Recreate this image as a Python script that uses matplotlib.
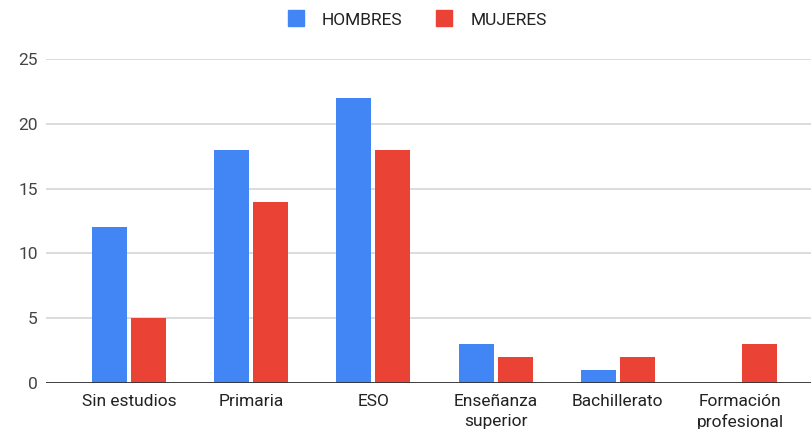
import matplotlib
matplotlib.use("Agg")
import matplotlib.pyplot as plt
import numpy as np
from matplotlib.lines import Line2D

plt.rcParams["font.family"] = ["Roboto", "DejaVu Sans"]

categories = ["Sin estudios", "Primaria", "ESO", "Enseñanza\nsuperior",
              "Bachillerato", "Formación\nprofesional"]
hombres = [12, 18, 22, 3, 1, 0]
mujeres = [5, 14, 18, 2, 2, 3]
series_names = ["HOMBRES", "MUJERES"]
colors = ["#4285F4", "#EA4335"]

W, H = 812, 429
fig = plt.figure(figsize=(W / 100, H / 100), dpi=100)
ax = fig.add_axes([46 / W, 46 / H, (812 - 46) / W, (383 - 59) / H])

x = np.arange(len(categories))
width = 0.286
offset = 0.16
ax.bar(x - offset, hombres, width, color=colors[0], zorder=3)
ax.bar(x + offset, mujeres, width, color=colors[1], zorder=3)

ax.set_xlim(-0.679, 5.589)
ax.set_ylim(0, 25)
ax.set_yticks([0, 5, 10, 15, 20, 25])
ax.yaxis.grid(True, color="#d9d9d9", linewidth=1.3, zorder=0)
ax.axhline(0, color="#333333", linewidth=1.3, zorder=4)
for s in ax.spines.values():
    s.set_visible(False)
ax.set_xticks(x)
ax.set_xticklabels(categories, fontsize=12.5, color="#222222", linespacing=1.4)
ax.tick_params(axis="x", length=0, pad=8)
ax.tick_params(axis="y", length=0, pad=6, labelsize=12.5, labelcolor="#444444")

handles = [Line2D([0], [0], marker="s", linestyle="none", markersize=11,
                  markerfacecolor=c, markeredgecolor=c) for c in colors]
fig.legend(handles, series_names, loc="center", bbox_to_anchor=(0.508, 1 - 20 / H),
           ncol=2, frameon=False, fontsize=12.5, handletextpad=0.5,
           columnspacing=1.4, labelcolor="#222222")

fig.savefig("out.png", dpi=100)
